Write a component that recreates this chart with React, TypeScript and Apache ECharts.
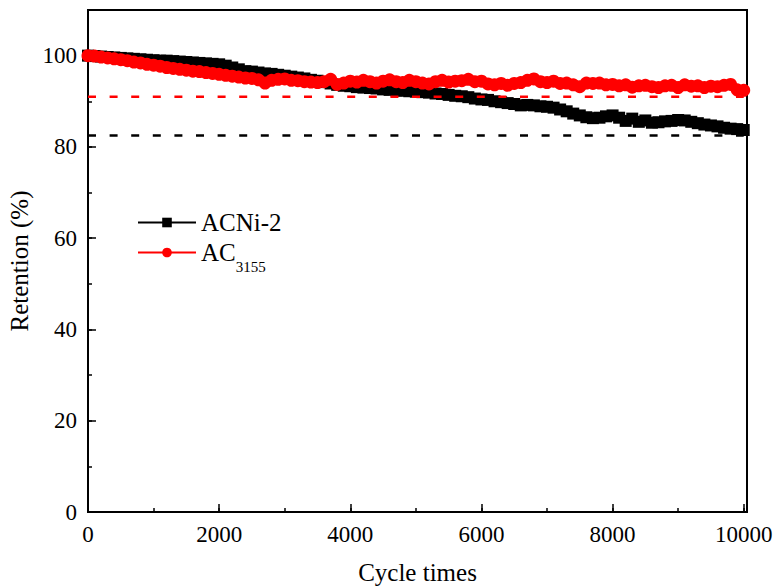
import React, { useEffect, useRef } from 'react';
import * as echarts from 'echarts';

const cycles = [
  0, 100, 200, 300, 400, 500, 600, 700, 800, 900,
  1000, 1100, 1200, 1300, 1400, 1500, 1600, 1700, 1800, 1900,
  2000, 2100, 2200, 2300, 2400, 2500, 2600, 2700, 2800, 2900,
  3000, 3100, 3200, 3300, 3400, 3500, 3600, 3700, 3800, 3900,
  4000, 4100, 4200, 4300, 4400, 4500, 4600, 4700, 4800, 4900,
  5000, 5100, 5200, 5300, 5400, 5500, 5600, 5700, 5800, 5900,
  6000, 6100, 6200, 6300, 6400, 6500, 6600, 6700, 6800, 6900,
  7000, 7100, 7200, 7300, 7400, 7500, 7600, 7700, 7800, 7900,
  8000, 8100, 8200, 8300, 8400, 8500, 8600, 8700, 8800, 8900,
  9000, 9100, 9200, 9300, 9400, 9500, 9600, 9700, 9800, 9900,
  10000,
];

const acni2 = [
  100.0, 99.9, 99.8, 99.7, 99.6, 99.5, 99.4, 99.3, 99.2, 99.1,
  99.0, 98.9, 98.9, 98.8, 98.7, 98.6, 98.5, 98.4, 98.3, 98.2,
  98.1, 97.8, 97.4, 97.0, 96.6, 96.5, 96.3, 96.1, 96.0, 95.8,
  95.6, 95.4, 95.2, 95.0, 94.7, 94.5, 94.2, 93.9, 93.6, 93.4,
  93.3, 93.1, 93.0, 92.9, 92.8, 92.6, 92.5, 92.4, 92.3, 92.2,
  92.1, 92.0, 91.9, 91.7, 91.6, 91.4, 91.2, 91.1, 90.9, 90.6,
  90.4, 90.3, 90.0, 89.8, 89.6, 89.4, 89.1, 89.2, 89.1, 88.9,
  88.8, 88.6, 88.2, 87.8, 87.3, 86.9, 86.5, 86.3, 86.4, 86.7,
  86.9, 86.4, 85.7, 86.2, 85.5, 85.8, 85.3, 85.4, 85.6, 85.7,
  85.9, 85.8, 85.5, 85.2, 84.9, 84.7, 84.5, 84.2, 84.0, 83.9,
  83.7,
];

const ac3155 = [
  100.0, 99.9, 99.7, 99.5, 99.3, 99.1, 98.9, 98.6, 98.4, 98.1,
  97.9, 97.7, 97.4, 97.2, 97.0, 96.8, 96.6, 96.5, 96.3, 96.1,
  95.9, 95.7, 95.5, 95.3, 95.1, 95.0, 94.7, 94.0, 94.6, 94.8,
  94.9, 94.6, 94.5, 94.3, 94.2, 94.1, 94.3, 94.8, 93.7, 94.0,
  94.4, 94.2, 94.6, 94.3, 94.0, 94.4, 94.7, 94.3, 94.1, 94.6,
  94.3, 94.0, 93.8, 94.3, 94.6, 94.2, 94.4, 94.5, 94.8, 94.3,
  94.4, 93.8, 93.6, 93.9, 93.5, 93.9, 94.1, 94.6, 94.9, 94.3,
  94.1, 94.4, 93.9, 94.0, 93.6, 93.2, 94.0, 93.9, 94.0, 93.6,
  93.7, 93.4, 93.6, 93.1, 93.4, 93.5, 93.2, 93.0, 93.4, 93.5,
  93.0, 93.6, 93.3, 93.4, 93.0, 93.3, 93.2, 93.5, 93.7, 92.5,
  92.4,
];

const seriesNames = ['ACNi-2', 'AC3155'];
const limitRed = 91.0;
const limitBlack = 82.5;
const limitRange = [0, 10000];
const xTicks = [0, 2000, 4000, 6000, 8000, 10000];
const yTicks = [0, 20, 40, 60, 80, 100];

const FONT = "'Times New Roman', 'Liberation Serif', serif";

export default function App() {
  const ref = useRef<HTMLDivElement>(null);
  useEffect(() => {
    document.body.style.margin = '0';
    if (!ref.current) return;
    const chart = echarts.init(ref.current, undefined, { renderer: 'svg' });
    const tickLine = { color: '#000', width: 1.5 };
    const option: any = {
      animation: false,
      backgroundColor: '#fff',
      grid: {
        left: 88, right: 29, top: 10, bottom: 74,
        containLabel: false, outerBoundsMode: 'none',
        show: true, borderColor: '#000', borderWidth: 2, backgroundColor: 'transparent',
      },
      legend: [
        {
          data: [seriesNames[0]],
          left: 137, top: 210, padding: 0, orient: 'vertical',
          itemWidth: 58, itemHeight: 12,
          textStyle: { fontFamily: FONT, fontSize: 25, color: '#000', lineHeight: 25 },
        },
        {
          data: [seriesNames[1]],
          left: 137, top: 231, padding: 0, orient: 'vertical',
          itemWidth: 58, itemHeight: 12,
          formatter: () => '{a|AC}{b|3155}',
          textStyle: {
            color: '#000',
            rich: {
              a: { fontFamily: FONT, fontSize: 25, color: '#000', lineHeight: 25 },
              b: { fontFamily: FONT, fontSize: 15, color: '#000', lineHeight: 15, padding: [28, 0, 0, 0] },
            },
          },
        },
      ],
      xAxis: [
        {
          type: 'value', min: 0, max: 10050, interval: 2000, position: 'bottom',
          axisLine: { show: true, onZero: false, lineStyle: { color: '#000', width: 2 } },
          axisTick: { show: true, inside: true, length: 8, lineStyle: tickLine },
          axisLabel: {
            fontFamily: FONT, fontSize: 23, color: '#000', margin: 11,
            formatter: (v: number) => (xTicks.includes(v) ? String(v) : ''),
          },
          splitLine: { show: false },
          name: 'Cycle times', nameLocation: 'middle', nameGap: 48,
          nameTextStyle: { fontFamily: FONT, fontSize: 25, color: '#000', lineHeight: 25 },
        },
        {
          type: 'value', min: 0, max: 10050, interval: 1000, position: 'bottom', offset: 0,
          axisLine: { show: false },
          axisTick: { show: true, inside: true, length: 4, lineStyle: tickLine },
          axisLabel: { show: false },
          splitLine: { show: false },
        },
      ],
      yAxis: [
        {
          type: 'value', min: 0, max: 110, interval: 20, position: 'left',
          axisLine: { show: true, onZero: false, lineStyle: { color: '#000', width: 2 } },
          axisTick: { show: true, inside: true, length: 8, lineStyle: tickLine },
          axisLabel: {
            fontFamily: FONT, fontSize: 23, color: '#000', margin: 11,
            formatter: (v: number) => (yTicks.includes(v) ? String(v) : ''),
          },
          splitLine: { show: false },
          name: 'Retention (%)', nameLocation: 'middle', nameGap: 42,
          nameTextStyle: { fontFamily: FONT, fontSize: 25, color: '#000' },
        },
        {
          type: 'value', min: 0, max: 110, interval: 10, position: 'left', offset: 0,
          axisLine: { show: false },
          axisTick: { show: true, inside: true, length: 4, lineStyle: tickLine },
          axisLabel: { show: false },
          splitLine: { show: false },
        },
      ],
      series: [
        {
          name: seriesNames[0], type: 'line', z: 2,
          data: cycles.map((c, i) => [c, acni2[i]]),
          symbol: 'rect', symbolSize: 12,
          itemStyle: { color: '#000' },
          lineStyle: { color: '#000', width: 1 },
        },
        {
          name: seriesNames[1], type: 'line', z: 3,
          data: cycles.map((c, i) => [c, ac3155[i]]),
          symbol: 'circle', symbolSize: 13,
          itemStyle: { color: '#ff0000' },
          lineStyle: { color: '#ff0000', width: 1 },
        },
        {
          name: 'limit-black', type: 'line', z: 4, symbol: 'none', silent: true,
          data: limitRange.map((x) => [x, limitBlack]),
          lineStyle: { color: '#000', width: 2.5, type: [8, 13.6] },
        },
        {
          name: 'limit-red', type: 'line', z: 5, symbol: 'none', silent: true,
          data: limitRange.map((x) => [x, limitRed]),
          lineStyle: { color: '#ff0000', width: 2.5, type: [8, 13.6] },
        },
      ],
    };
    chart.setOption(option);
    return () => chart.dispose();
  }, []);
  return <div ref={ref} style={{ width: 776, height: 586 }} />;
}
